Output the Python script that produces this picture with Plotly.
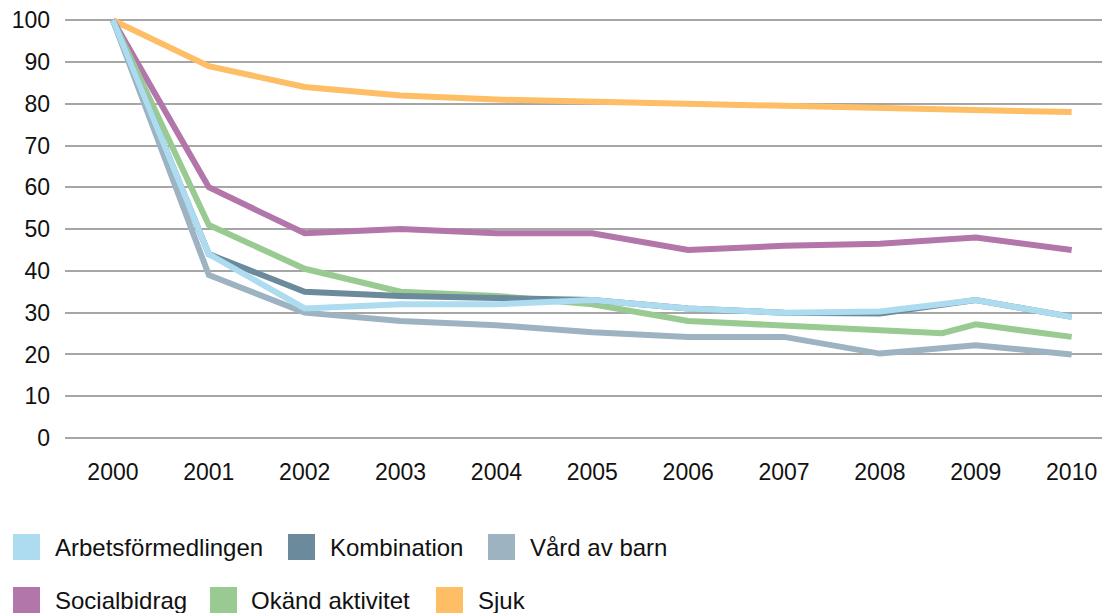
import plotly.graph_objects as go

years = [2000, 2001, 2002, 2003, 2004, 2005, 2006, 2007, 2008, 2009, 2010]
year_labels = [str(y) for y in years]

arbetsformedlingen = [100, 44, 31, 32, 32, 33, 31, 30, 30.3, 33, 29]
kombination = [100, 44, 35, 34, 33.5, 33, 31, 30, 29.8, 33, 29]
vard_av_barn = [100, 39, 30, 28, 27, 25.3, 24.2, 24.2, 20.2, 22.2, 20]
socialbidrag = [100, 60, 49, 50, 49, 49, 45, 46, 46.5, 48, 45]
okand_years = [2000, 2001, 2002, 2003, 2004, 2005, 2006, 2007, 2008, 2008.65, 2009, 2010]
okand_aktivitet = [100, 51, 40.5, 35, 34, 32, 28, 27, 25.9, 25.1, 27.2, 24.2]
sjuk = [100, 89, 84, 82, 81, 80.5, 80, 79.5, 79, 78.5, 78]

colors = {
    "Arbetsförmedlingen": "#ADDCF0",
    "Kombination": "#6B8A9B",
    "Vård av barn": "#9DB3C2",
    "Socialbidrag": "#B276AB",
    "Okänd aktivitet": "#98CA91",
    "Sjuk": "#FDBE66",
}

# drawing order: bottom -> top
series = [
    ("Sjuk", years, sjuk),
    ("Socialbidrag", years, socialbidrag),
    ("Okänd aktivitet", okand_years, okand_aktivitet),
    ("Vård av barn", years, vard_av_barn),
    ("Kombination", years, kombination),
    ("Arbetsförmedlingen", years, arbetsformedlingen),
]

FONT = "Liberation Sans, Arial, sans-serif"
OFF = 8  # default page body margin
W, H = 1102, 605
L, R, T, B = 57, 0, 3, 175
PW, PH = W - L - R, H - T - B

fig = go.Figure()
for name, xs, ys in series:
    fig.add_trace(go.Scatter(
        x=xs, y=ys, mode="lines", name=name, showlegend=False,
        line=dict(color=colors[name], width=6),
        hoverinfo="x+y+name",
    ))

def px_x(px):
    return (px - OFF - L) / PW

def px_y(py):
    return (H - B - (py - OFF)) / PH

legend_items = [
    ("Arbetsförmedlingen", 13, 547, 54),
    ("Kombination", 288, 547, 329),
    ("Vård av barn", 488, 547, 529),
    ("Socialbidrag", 13, 600, 54),
    ("Okänd aktivitet", 210, 600, 250),
    ("Sjuk", 436, 600, 477),
]
shapes = []
annotations = []
for name, sx, cy, tx in legend_items:
    shapes.append(dict(
        type="rect", xref="paper", yref="paper",
        x0=px_x(sx), x1=px_x(sx + 27), y0=px_y(cy + 13), y1=px_y(cy - 13),
        fillcolor=colors[name], line=dict(width=0),
    ))
    annotations.append(dict(
        xref="paper", yref="paper", x=px_x(tx), y=px_y(cy),
        xanchor="left", yanchor="middle", showarrow=False,
        text=name, font=dict(family=FONT, size=24, color="#111111"),
        borderpad=0,
    ))

fig.update_layout(
    width=W, height=H,
    margin=dict(l=L, r=R, t=T, b=B),
    paper_bgcolor="white", plot_bgcolor="white",
    font=dict(family=FONT, size=23, color="#111111"),
    shapes=shapes, annotations=annotations,
    xaxis=dict(
        type="linear", range=[1999.5, 2010.4],
        tickvals=years, ticktext=year_labels,
        showgrid=False, zeroline=False, showline=False,
        ticks="", ticklabelstandoff=18, ticklabeloverflow="allow",
        tickfont=dict(family=FONT, size=23, color="#111111"),
    ),
    yaxis=dict(
        range=[0, 102.2], dtick=10, tick0=0,
        showgrid=True, gridcolor="#A6A6A6", gridwidth=1.5,
        zeroline=True, zerolinecolor="#A6A6A6", zerolinewidth=1.5,
        showline=False, ticks="", ticklabelstandoff=14, ticklabeloverflow="allow",
        tickfont=dict(family=FONT, size=23, color="#111111"),
    ),
    showlegend=False,
)

fig.write_html("out.html")
